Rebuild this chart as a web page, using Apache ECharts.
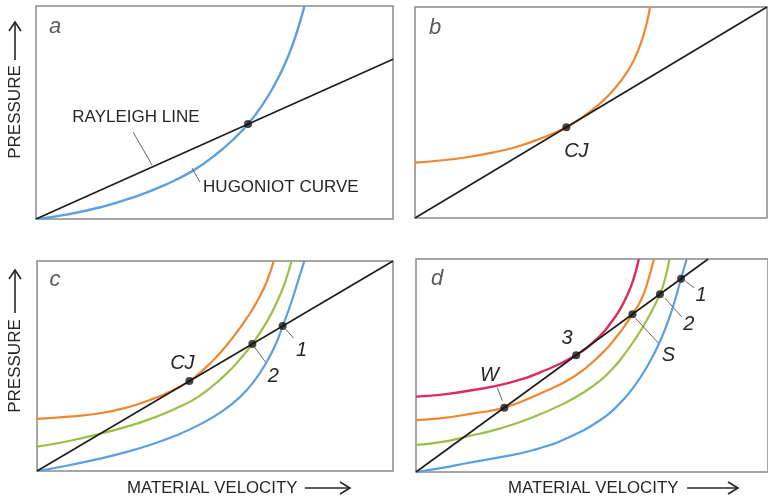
<!DOCTYPE html>
<html>
<head>
<meta charset="utf-8">
<script src="https://cdn.jsdelivr.net/npm/echarts@6/dist/echarts.min.js"></script>
<style>
  html, body { margin: 0; padding: 0; background: #fff; }
  #chart { width: 768px; height: 497px; }
</style>
</head>
<body>
<div id="chart"></div>
<script>
// ---- Panel a: Rayleigh line meeting the Hugoniot curve ----
const rayleighA = [[0, 0], [100, 75]];
const hugoniotA = [[0, 0], [9, 2.2], [18, 5.5], [27, 10], [36, 15.9], [44, 22.7], [51, 31.1], [56, 38.6],
  [59.4, 44.6], [63, 52.5], [66.5, 62], [69.5, 71.9], [72, 82.4], [74, 92.8], [75.2, 100]];
const pointsA = [[59.4, 44.6]];

// ---- Panel b: Chapman-Jouguet tangency ----
const rayleighB = [[0, 0], [100, 100]];
const productsB = [[0, 26.2], [7, 27.25], [14.7, 28.8], [22, 31], [29, 33.8], [36, 37.9], [43, 43],
  [48, 48.3], [52.6, 54.3], [56.5, 60.9], [60.2, 69], [62.3, 75.3], [64, 82.1], [65.3, 89], [66.2, 95],
  [66.8, 100]];
const pointsB = [[43, 43]];

// ---- Panel c: CJ, 2 and 1 on one Rayleigh line ----
const rayleighC = [[0, 0], [100, 100]];
const orangeC = [[0, 24.8], [9, 25.9], [17.7, 27.5], [25, 30.1], [31.7, 33.8], [37.5, 37.9], [42.8, 42.8],
  [47, 48.6], [50.5, 54.5], [55, 63.5], [59.8, 75], [62.3, 82.3], [64.5, 90], [66.5, 100]];
const greenC = [[0, 11.6], [9, 14.3], [18.6, 18.1], [25, 21], [31.7, 24.7], [39, 29.8], [45.8, 35.9],
  [53, 46], [57, 53.2], [60.5, 60.5], [64.5, 70.9], [67.3, 80.1], [69.6, 89.5], [71.5, 100]];
const blueC = [[0, 0], [8, 2.4], [17.7, 5.9], [25, 9], [31.7, 12.4], [39, 16.9], [45.8, 22.2], [52, 28.4],
  [57, 35.2], [61, 42.8], [64.5, 51.9], [67, 60.2], [69, 69], [71.5, 80.6], [73.5, 91.4], [75.1, 100]];
const pointsC = [[42.8, 42.8], [60.5, 60.5], [69, 69]];
const labelsC = ['CJ', '2', '1'];

// ---- Panel d: weak, strong and intermediate states ----
const rayleighD = [[0, 0], [83, 100]];
const redD = [[0, 35.4], [6.8, 36.2], [16.3, 38.5], [25.8, 41.6], [35.3, 46.8], [45.5, 54.9], [52, 63.5],
  [56, 71.5], [58, 76.5], [60, 83], [61.8, 90.5], [63.3, 100]];
const orangeD = [[0, 24.4], [6.8, 25.2], [16.3, 27.5], [25.1, 30.2], [35.3, 36.9], [44.8, 44.7],
  [52.4, 55], [57, 63.5], [61.5, 74.1], [64, 81], [65.7, 88.6], [67.6, 100]];
const greenD = [[0, 12.7], [7, 14], [14.4, 16.6], [24, 20.5], [33.4, 25.8], [43, 33], [48, 37.8],
  [52.4, 43], [55.5, 47.9], [58, 52.6], [61.9, 61.5], [66, 72.5], [69.3, 83.5], [70.8, 91], [72, 100]];
const blueD = [[0, 0], [7, 1.8], [14.4, 4.1], [24, 7], [33.4, 10.3], [43, 16], [52.4, 24.4], [57.5, 31.5],
  [61.9, 40], [66, 50.5], [69.5, 62], [72.5, 75], [75.3, 90.7], [76.9, 100]];
const pointsD = [[25.1, 30.2], [45.5, 54.8], [61.5, 74.1], [69.3, 83.5], [75.3, 90.7]];
const labelsD = ['W', '3', 'S', '2', '1'];

const panelLetters = ['a', 'b', 'c', 'd'];
const yTitle = 'PRESSURE';
const xTitle = 'MATERIAL VELOCITY';

// ---- styling ----
const C_LINE = '#1c1c1c';
const C_BLUE = '#5b9fe0';
const C_ORANGE = '#f0862e';
const C_GREEN = '#9cbf45';
const C_RED = '#dc2c5c';
const C_TEXT = '#262626';

const boxes = [
  { left: 36, top: 6, width: 357, height: 213 },
  { left: 415, top: 7, width: 352, height: 211 },
  { left: 37, top: 261, width: 356, height: 210 },
  { left: 416, top: 259, width: 353, height: 213 }
];

const chart = echarts.init(document.getElementById('chart'), null, { renderer: 'canvas' });

const grid = boxes.map(b => ({
  left: b.left, top: b.top, width: b.width, height: b.height,
  show: true, borderColor: '#8a8a8a', borderWidth: 1.5, containLabel: false
}));
const axisBase = { type: 'value', min: 0, max: 100, show: false, splitLine: { show: false } };
const xAxis = boxes.map((b, i) => Object.assign({ gridIndex: i }, axisBase));
const yAxis = boxes.map((b, i) => Object.assign({ gridIndex: i }, axisBase));

function line(i, data, color, width, smooth) {
  return {
    type: 'line', xAxisIndex: i, yAxisIndex: i, data: data,
    smooth: smooth ? 0.5 : false, showSymbol: false, symbol: 'none',
    lineStyle: { color: color, width: width }, clip: true, silent: true, animation: false, z: 2
  };
}
function dots(i, data) {
  return {
    type: 'scatter', xAxisIndex: i, yAxisIndex: i, data: data,
    symbolSize: 8, itemStyle: { color: '#161616' }, silent: true, animation: false, z: 5
  };
}

const series = [
  line(0, hugoniotA, C_BLUE, 2.4, true),
  line(0, rayleighA, C_LINE, 1.6, false),
  dots(0, pointsA),

  line(1, productsB, C_ORANGE, 2.2, true),
  line(1, rayleighB, C_LINE, 1.6, false),
  dots(1, pointsB),

  line(2, orangeC, C_ORANGE, 2.2, true),
  line(2, greenC, C_GREEN, 2.2, true),
  line(2, blueC, C_BLUE, 2.2, true),
  line(2, rayleighC, C_LINE, 1.6, false),
  dots(2, pointsC),

  line(3, redD, C_RED, 2.4, true),
  line(3, orangeD, C_ORANGE, 2.2, true),
  line(3, greenD, C_GREEN, 2.2, true),
  line(3, blueD, C_BLUE, 2.2, true),
  line(3, rayleighD, C_LINE, 1.6, false),
  dots(3, pointsD)
];

chart.setOption({ animation: false, backgroundColor: '#fff', grid, xAxis, yAxis, series });

// ---- annotations: panel letters, mark labels, leaders and axis titles ----
const P = (g, xy) => chart.convertToPixel({ gridIndex: g }, xy);
const graphic = [];

function txt(str, x, y, opt) {
  opt = opt || {};
  graphic.push({
    type: 'text', x: x, y: y, rotation: opt.rotation || 0, silent: true, z: 20,
    style: {
      text: str, fill: opt.fill || C_TEXT,
      font: opt.font || '17px "Liberation Sans", Arial, sans-serif',
      textAlign: opt.align || 'center', align: opt.align || 'center',
      textVerticalAlign: 'middle', verticalAlign: 'middle'
    }
  });
}
function seg(x1, y1, x2, y2, color, w) {
  graphic.push({
    type: 'line', silent: true, z: 15,
    shape: { x1: x1, y1: y1, x2: x2, y2: y2 },
    style: { stroke: color || '#555', lineWidth: w || 1 }
  });
}
function poly(pts, color, w) {
  graphic.push({
    type: 'polyline', silent: true, z: 15,
    shape: { points: pts },
    style: { stroke: color || C_TEXT, lineWidth: w || 1.6, fill: null }
  });
}

const ITALIC = 'italic 20px "Liberation Sans", Arial, sans-serif';
const LETTER = 'italic 22px "Liberation Sans", Arial, sans-serif';

// panel letters
const letterPos = [[55, 27], [435, 28], [55, 280], [437, 279]];
panelLetters.forEach((l, i) => txt(l, letterPos[i][0], letterPos[i][1], { font: LETTER, fill: '#5a5a5a' }));

// panel a labels with leaders
{
  const r = P(0, [28, 47.9]);
  txt('RAYLEIGH LINE', r[0], r[1]);
  const r1 = P(0, [27.2, 40.8]), r2 = P(0, [32.5, 25.4]);
  seg(r1[0], r1[1], r2[0], r2[1], '#666', 1);
  const h = P(0, [46.8, 15]);
  txt('HUGONIOT CURVE', h[0], h[1], { align: 'left' });
  const h1 = P(0, [43.7, 23.9]), h2 = P(0, [45.9, 17.4]);
  seg(h1[0], h1[1], h2[0], h2[1], '#666', 1);
}

// panel b label
{
  const p = P(1, pointsB[0]);
  txt('CJ', p[0] + 10, p[1] + 24, { font: ITALIC });
}

// panel c labels: [label offset, leader start, leader end]
const layoutC = [
  [[-7, -18], null],
  [[21, 32], [[2, 3], [13, 18]]],
  [[19, 24], [[3, 3], [11, 12]]]
];
pointsC.forEach((pt, i) => {
  const p = P(2, pt);
  const L = layoutC[i];
  if (L[1]) seg(p[0] + L[1][0][0], p[1] + L[1][0][1], p[0] + L[1][1][0], p[1] + L[1][1][1], '#666', 1);
  txt(labelsC[i], p[0] + L[0][0], p[1] + L[0][1], { font: ITALIC });
});

// panel d labels
const layoutD = [
  [[-15, -32], [[-7, -20], [-2, -7]]],
  [[-9, -17], null],
  [[36, 41], [[3, 4], [26, 29]]],
  [[29, 30], [[5, 4], [22, 23]]],
  [[20, 17], [[4, 2], [13, 9]]]
];
pointsD.forEach((pt, i) => {
  const p = P(3, pt);
  const L = layoutD[i];
  if (L[1]) seg(p[0] + L[1][0][0], p[1] + L[1][0][1], p[0] + L[1][1][0], p[1] + L[1][1][1], '#666', 1);
  txt(labelsD[i], p[0] + L[0][0], p[1] + L[0][1], { font: ITALIC });
});

// vertical axis titles with upward arrows
[[15, 112, 22, 60], [15, 366, 270, 313]].forEach(t => {
  txt(yTitle, t[0], t[1], { rotation: Math.PI / 2 });
  seg(t[0], t[3], t[0], t[2] + 1, C_TEXT, 1.6);
  poly([[t[0] - 6, t[2] + 9], [t[0], t[2]], [t[0] + 6, t[2] + 9]], C_TEXT, 1.6);
});

// horizontal axis titles with rightward arrows
[[127, 305, 350], [508, 687, 738]].forEach(t => {
  txt(xTitle, t[0], 488, { align: 'left', font: '16.8px "Liberation Sans", Arial, sans-serif' });
  seg(t[1], 488, t[2] - 1, 488, C_TEXT, 1.6);
  poly([[t[2] - 10, 482], [t[2], 488], [t[2] - 10, 494]], C_TEXT, 1.6);
});

chart.setOption({ graphic: graphic });
</script>
</body>
</html>
